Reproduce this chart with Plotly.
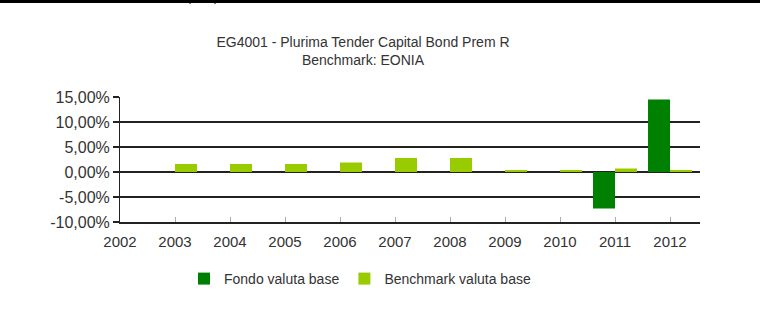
import plotly.graph_objects as go

years = [2002, 2003, 2004, 2005, 2006, 2007, 2008, 2009, 2010, 2011, 2012]
fondo = [None, None, None, None, None, None, None, None, None, -7.3, 14.5]
benchmark = [None, 1.6, 1.6, 1.6, 1.9, 2.8, 2.8, 0.3, 0.3, 0.7, 0.25]
y_ticks = [-10, -5, 0, 5, 10, 15]
y_labels = ["-10,00%", "-5,00%", "0,00%", "5,00%", "10,00%", "15,00%"]
x_labels = [str(y) for y in years]

FONT = "Liberation Sans, Arial, sans-serif"

fig = go.Figure()
fig.add_trace(go.Bar(x=years, y=fondo, name="Fondo valuta base",
                     marker=dict(color="#008000", line=dict(width=0))))
fig.add_trace(go.Bar(x=years, y=benchmark, name="Benchmark valuta base",
                     marker=dict(color="#99CC00", line=dict(width=0))))

fig.update_layout(
    width=760, height=331,
    margin=dict(l=120, r=60, t=97, b=109),
    paper_bgcolor="white", plot_bgcolor="white",
    barmode="group", bargap=0.2, bargroupgap=0,
    font=dict(family=FONT, color="#333333"),
    title=dict(text="EG4001 - Plurima Tender Capital Bond Prem R<br>Benchmark: EONIA",
               x=363/760, xanchor="center", xref="container",
               y=1-47/331, yanchor="top", yref="container",
               font=dict(family=FONT, size=14, color="#333333")),
    legend=dict(orientation="h", x=(360-120)/580, xanchor="center",
                y=(222-279)/125, yanchor="middle",
                font=dict(family=FONT, size=14, color="#333333"),
                itemwidth=30, bgcolor="rgba(0,0,0,0)"),
    xaxis=dict(range=[2002, 2012.545], tickmode="array", tickvals=years, ticktext=x_labels,
               ticks="inside", ticklen=5, tickcolor="#aaaaaa",
               showgrid=False, zeroline=False, ticklabelstandoff=5,
               showline=True, linecolor="#222222", linewidth=2,
               tickfont=dict(family=FONT, size=15, color="#333333")),
    yaxis=dict(range=[-10, 15], tickmode="array", tickvals=y_ticks, ticktext=y_labels,
               ticks="outside", ticklen=6, tickcolor="#222222", tickwidth=2,
               showgrid=True, gridcolor="#222222", gridwidth=2,
               zeroline=False, showline=True, linecolor="#222222", linewidth=1,
               tickfont=dict(family=FONT, size=16, color="#333333")),
)

# top border line of the page
fig.add_shape(type="line", xref="paper", yref="paper",
              x0=-120/580, x1=640/580, y0=1+95.5/125, y1=1+95.5/125,
              line=dict(color="black", width=3))
for px in (190, 215):
    fig.add_shape(type="line", xref="paper", yref="paper",
                  x0=(px-120)/580, x1=(px-120)/580, y0=1+97/125, y1=1+93/125,
                  line=dict(color="black", width=1))

fig.write_html("out.html", config={"displayModeBar": False},
               post_script="document.body.style.margin='0';document.body.style.overflow='hidden';")
